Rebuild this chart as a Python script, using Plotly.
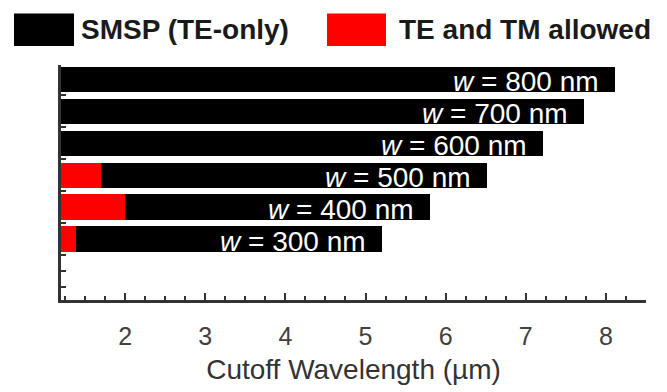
import plotly.graph_objects as go

# ---- data ----
widths_nm = [300, 400, 500, 600, 700, 800]
smsp_cutoff_um = [5.21, 5.81, 6.51, 7.21, 7.73, 8.11]
tetm_cutoff_um = [1.39, 2.00, 1.70, None, None, None]
labels = [f"<i>w</i> = {w} nm" for w in widths_nm]
x_ticks = [2, 3, 4, 5, 6, 7, 8]

y_pos = [w / 100 for w in widths_nm]

W, H = 667, 392
L, R, T, B = 61, 21, 65, 80
pw, ph = W - L - R, H - T - B

def px_x(x):
    return (x - L) / pw

def px_y(y):
    return (H - B - y) / ph

FONT = "Liberation Sans, Arial, sans-serif"

fig = go.Figure()
fig.add_trace(go.Bar(
    x=smsp_cutoff_um, y=y_pos, orientation="h", width=0.8,
    marker=dict(color="black", line=dict(width=0)), showlegend=False,
    hoverinfo="x",
))
fig.add_trace(go.Bar(
    x=tetm_cutoff_um, y=y_pos, orientation="h", width=0.8,
    marker=dict(color="#ff0000", line=dict(width=0)), showlegend=False,
    hoverinfo="x",
))

annotations = []
for xv, yv, lab in zip(smsp_cutoff_um, y_pos, labels):
    annotations.append(dict(
        x=xv, y=yv, xref="x", yref="y", text=lab, showarrow=False,
        xanchor="right", yanchor="middle", xshift=-14, yshift=-2,
        font=dict(family=FONT, size=28, color="white"),
    ))

# legend (drawn manually to match the large swatches)
shapes = [
    dict(type="rect", xref="paper", yref="paper",
         x0=px_x(14), x1=px_x(74), y0=px_y(45), y1=px_y(11),
         fillcolor="black", line=dict(width=0)),
    dict(type="rect", xref="paper", yref="paper",
         x0=px_x(327), x1=px_x(386), y0=px_y(45), y1=px_y(11),
         fillcolor="#ff0000", line=dict(width=0)),
]
annotations += [
    dict(x=px_x(79), y=px_y(28), xref="paper", yref="paper",
         text="<b>SMSP (TE-only)</b>", showarrow=False,
         xanchor="left", yanchor="middle",
         font=dict(family=FONT, size=28, color="#1a1a1a")),
    dict(x=px_x(397), y=px_y(28), xref="paper", yref="paper",
         text="<b>TE and TM allowed</b>", showarrow=False,
         xanchor="left", yanchor="middle",
         font=dict(family=FONT, size=28, color="#1a1a1a")),
]

fig.update_layout(
    width=W, height=H,
    margin=dict(l=L, r=R, t=T, b=B),
    barmode="overlay", bargap=0,
    plot_bgcolor="white", paper_bgcolor="white",
    shapes=shapes, annotations=annotations,
    font=dict(family=FONT, color="#333333"),
)
fig.update_xaxes(
    range=[1.2, 8.5], tickvals=x_ticks, ticks="inside", ticklen=7,
    tickwidth=1.5, tickcolor="#333333",
    minor=dict(dtick=0.25, tick0=0, ticks="inside", ticklen=4, tickcolor="#333333", tickwidth=1.5),
    showline=True, linecolor="#333333", linewidth=2.5,
    showgrid=False, zeroline=False,
    tickfont=dict(family=FONT, size=25, color="#404040"),
    ticklabelstandoff=12,
    title=dict(text="Cutoff Wavelength (µm)", font=dict(family=FONT, size=28, color="#333333"), standoff=11),
)
fig.update_yaxes(
    range=[1.1, 8.45], tickvals=[1.5, 2, 2.5, 3.5, 4.5, 5.5, 6.5, 7.5],
    ticks="inside", ticklen=5, tickwidth=1.5, tickcolor="#333333",
    showticklabels=False,
    showline=True, linecolor="#333333", linewidth=2.5,
    showgrid=False, zeroline=False,
)

fig.write_html("out.html")
